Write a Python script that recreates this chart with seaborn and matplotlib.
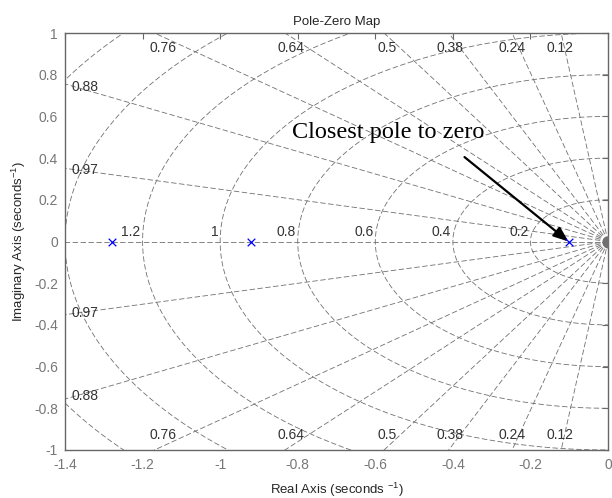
import numpy as np
import pandas as pd
import seaborn as sns
import matplotlib.pyplot as plt

# poles of the system (real axis)
pole_re = [-1.28, -0.92, -0.10]
pole_im = [0.0, 0.0, 0.0]

# sgrid values
zeta = [0.12, 0.24, 0.38, 0.5, 0.64, 0.76, 0.88, 0.97]
zeta_side = [0.88, 0.97]              # labelled on the left edge
wn = [0.2, 0.4, 0.6, 0.8, 1.0, 1.2, 1.4, 1.6]
wn_lbl = ["0.2", "0.4", "0.6", "0.8", "1", "1.2"]

xticks = [-1.4, -1.2, -1.0, -0.8, -0.6, -0.4, -0.2, 0.0]
yticks = [-1, -0.8, -0.6, -0.4, -0.2, 0, 0.2, 0.4, 0.6, 0.8, 1]

sns.set_style("white")
plt.rcParams['font.family'] = ['Liberation Sans', 'DejaVu Sans']
plt.rcParams['mathtext.default'] = 'regular'

fig = plt.figure(figsize=(6.12, 4.98), dpi=100)
ax = fig.add_axes([0.1062, 0.0964, 0.8873, 0.8373])

gc = '#707070'
dash = (0, (6.5, 3))
lw = 0.6

# damping lines (from origin outwards), upper and lower
for z in zeta + [1.0]:
    w = np.sqrt(1 - z ** 2)
    r = np.array([0.0, 3.0])
    ax.plot(-z * r, w * r, color=gc, lw=lw, linestyle=dash)
    if z < 1:
        ax.plot(-z * r, -w * r, color=gc, lw=lw, linestyle=dash)

# natural frequency semicircles
th = np.linspace(np.pi / 2, 3 * np.pi / 2, 400)
for w in wn:
    ax.plot(w * np.cos(th), w * np.sin(th), color=gc, lw=lw, linestyle=dash)

# tiny blob at the origin
ax.scatter([0], [0], s=60, color='#707070', zorder=3, clip_on=True)

# poles
df = pd.DataFrame({'re': pole_re, 'im': pole_im})
sns.scatterplot(data=df, x='re', y='im', marker='x', color='blue', s=30,
                linewidth=0.9, ax=ax, zorder=4)

tc = '#333333'
# wn labels
for w, lb in zip(wn, wn_lbl):
    ax.text(-w - 0.005, 0.012, lb, ha='right', va='bottom', fontsize=10, color=tc)

# zeta labels top / bottom
for z in zeta:
    if z in zeta_side:
        continue
    s = np.sqrt(1 - z ** 2) / z
    x = -0.93 / s * 1.05 - 0.005
    ax.text(x, 0.93, f"{z:g}", ha='center', va='center', fontsize=10, color=tc)
    ax.text(x, -0.93, f"{z:g}", ha='center', va='center', fontsize=10, color=tc)
# zeta labels on the left edge
for z in zeta_side:
    s = np.sqrt(1 - z ** 2) / z
    y = 1.37 * s
    ax.text(-1.382, y, f"{z:g}", ha='left', va='center', fontsize=10, color=tc)
    ax.text(-1.382, -y, f"{z:g}", ha='left', va='center', fontsize=10, color=tc)

# annotation
ax.annotate("", xy=(-0.102, 0.0), xytext=(-0.37, 0.405),
            arrowprops=dict(arrowstyle='-|>,head_length=0.9,head_width=0.35',
                            color='black', lw=1.6, shrinkA=0, shrinkB=0))
ax.text(-0.567, 0.497, "Closest pole to zero", ha='center', va='baseline',
        fontsize=17.5, family=['Liberation Serif', 'DejaVu Serif'], color='black')

ax.set_xlim(-1.4, 0)
ax.set_ylim(-1, 1)
ax.set_xticks(xticks)
ax.set_yticks(yticks)
ax.set_xticklabels([f"{v:g}" for v in xticks])
ax.set_yticklabels([f"{v:g}" for v in yticks])
ax.tick_params(direction='in', length=4, width=0.8, colors='#666666',
               labelsize=10, top=True, right=True, labelcolor='#777777')
ax.tick_params(axis='x', pad=6)
ax.tick_params(axis='y', pad=5)
for sp in ax.spines.values():
    sp.set_color('#666666')
    sp.set_linewidth(1.0)

ax.set_title("Pole-Zero Map", fontsize=9.5, pad=6)
ax.set_xlabel("Real Axis (seconds $^{-1}$)", fontsize=9.5, labelpad=6)
ax.set_ylabel("Imaginary Axis (seconds$^{-1}$)", fontsize=9.5, labelpad=4)

fig.savefig("out.png", dpi=100)
